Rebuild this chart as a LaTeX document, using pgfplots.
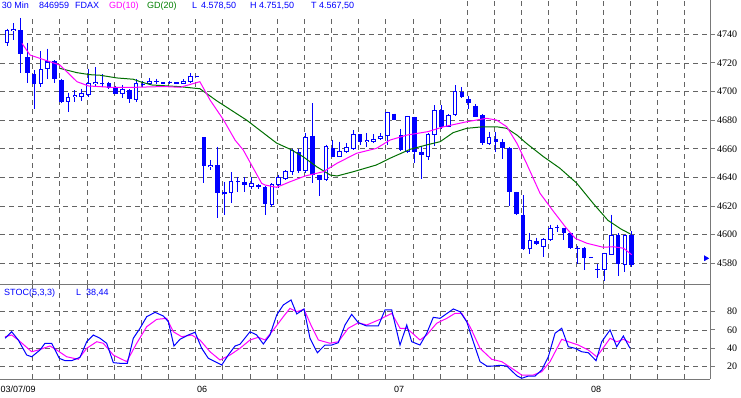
\documentclass[border=0pt]{standalone}
\usepackage{pgfplots}
\pgfplotsset{compat=1.18}
\usepackage{pgfplotstable}
\usepackage{fontspec}
\setmainfont{Liberation Sans}
\newfontfamily\serifft{Liberation Serif}
\definecolor{cblue}{RGB}{0,0,255}
\definecolor{cmag}{RGB}{255,0,255}
\definecolor{cgreen}{RGB}{0,110,0}
\definecolor{tgreen}{RGB}{0,128,0}
\definecolor{gridc}{RGB}{100,100,100}
\definecolor{borderc}{RGB}{120,120,120}

\pgfplotstableread{
i o h l c
0 4734 4744 4732 4743
1 4742 4748 4736 4744
2 4743 4751.5 4713 4726
3 4724 4734 4706 4713
4 4712 4715 4688 4705.5
5 4705 4728 4703 4715.5
6 4715.5 4730 4709 4721
7 4721 4722 4706 4709
8 4708 4709 4692 4693
9 4692.5 4699 4686 4696
10 4696 4701 4693 4697.5
11 4696.5 4702 4693.5 4699
12 4697.5 4716 4696.5 4706
13 4705 4717 4703 4707
14 4706 4712 4703 4705
15 4706 4707 4702 4702.5
16 4702.5 4704 4698 4698.5
17 4698.5 4704.5 4695.5 4702
18 4701 4701.5 4692 4694.5
19 4694 4708.5 4693 4706
20 4705.5 4707.5 4703.5 4704.5
21 4705.5 4709.5 4705 4707.5
22 4707 4709 4705.5 4707.5
23 4706.5 4706.5 4705 4705.5
24 4707 4707.5 4705.5 4706.5
25 4706.5 4706.5 4705.5 4705.5
26 4705.5 4708.5 4705 4707.5
27 4707 4713 4706 4711
28 4711 4711 4710 4710
29 4668 4668 4636 4648
30 4647.5 4652 4645 4649
31 4649 4661.5 4611.5 4629
32 4628.5 4637 4614 4629.5
33 4629 4643.5 4622 4637.5
34 4637.5 4640 4630 4636.5
35 4637 4640 4630 4635
36 4633 4640.5 4632 4636
37 4635 4635.5 4632 4633.5
38 4633.5 4634 4614 4621.5
39 4621 4636 4619 4635.5
40 4634.5 4642 4632.5 4640
41 4639 4645 4638.5 4644.5
42 4643.5 4660 4642 4659
43 4657.5 4660 4643 4644.5
44 4644.5 4671 4643 4668
45 4669 4692 4636 4642
46 4642 4642 4627 4638
47 4638 4663 4637.5 4662
48 4660.5 4666 4654 4654.5
49 4654.5 4665 4654 4658.5
50 4658 4664 4657 4661
51 4660 4673 4659 4670
52 4670 4670.5 4662.5 4665
53 4664.5 4671 4661 4666
54 4665 4670 4664 4667
55 4667 4671 4666 4669
56 4669 4686 4663 4685.5
57 4684.5 4684.5 4680 4680
58 4669.5 4674 4658.5 4659
59 4658 4683 4657 4683
60 4682 4682.5 4650 4658
61 4658 4662 4639 4655.5
62 4654 4671 4652.5 4670
63 4669.5 4690.5 4662 4687
64 4687 4690.5 4674 4675.5
65 4675.5 4684 4675 4683.5
66 4683.5 4704.5 4683 4700.5
67 4699.5 4703 4695.5 4696
68 4694.5 4697 4687.5 4692
69 4690 4691 4682 4682.5
70 4683.5 4684 4662.5 4664
71 4663.5 4672 4663 4668
72 4667 4672 4658 4664.5
73 4664.5 4667 4653 4660.5
74 4660.5 4661 4620 4630
75 4629.5 4630 4614 4614.5
76 4614 4627.5 4589.5 4590
77 4590 4601.5 4586.5 4596
78 4595.5 4598 4593 4593.5
79 4591.5 4597.5 4584.5 4597
80 4596 4607 4595.5 4604.5
81 4605.5 4607 4602 4604.5
82 4604.5 4605 4596 4601.5
83 4601 4601.5 4590 4590.5
84 4590 4592 4579.5 4591
85 4591 4591.5 4575.5 4584
86 4584.5 4584.5 4583.5 4583.5
87 4576 4579.5 4569.5 4575.5
88 4575.5 4587.5 4567.5 4587
89 4586 4614 4585.5 4600
90 4600 4601 4571 4579.5
91 4578.5 4600 4574 4599.5
92 4600 4602.5 4577.5 4578.5
}\ohlc

\pgfplotsset{
 panel/.style={scale only axis, width=710pt, xmin=-1.031, xmax=103.53, anchor=south west,
  axis x line*=bottom, axis y line*=right,
  axis line style={draw=borderc, line width=1pt},
  xtick={3.785,7.785,...,99.785}, xticklabels={}, xtick style={draw=none},
  xmajorgrids, ymajorgrids,
  major grid style={draw=gridc, line width=0.8pt, dash pattern=on 5pt off 4pt},
  tick align=outside, major tick length=5pt,
  ytick style={draw=borderc, line width=1pt},
  yticklabel style={font=\serifft\fontsize{10}{12}\selectfont, anchor=west, inner sep=0pt, text width=20pt, align=right, xshift=2pt},
  /pgf/number format/assume math mode=true, /pgf/number format/1000 sep={},
  clip=false},
 candle/.style={draw=none, mark=none, forget plot,
  error bars/y dir=minus, error bars/y explicit, error bars/error mark=none},
}

\begin{document}
\begin{tikzpicture}
\path[use as bounding box] (0pt,0pt) rectangle (741pt,397pt);

\begin{axis}[panel, at={(0pt,112.3pt)}, height=284.7pt, ymin=4565.05, ymax=4763.97, ytick={4580,4600,...,4740}]
% wicks
\addplot[candle, error bars/error bar style={line width=1pt, draw=cblue}]
  table[x=i, y=h, y error minus expr={\thisrow{h}-\thisrow{l}}] {\ohlc};
% bodies
\addplot[candle, error bars/error bar style={line width=4.6pt, draw=cblue}]
  table[x=i, y expr={max(\thisrow{o},\thisrow{c})}, y error minus expr={max(abs(\thisrow{o}-\thisrow{c}),0.7)}] {\ohlc};
% hollow interior of rising candles
\addplot[candle, error bars/error bar style={line width=2.6pt, draw=white}]
  table[x=i, y expr={ifthenelse(\thisrow{c}-\thisrow{o}>1.4, \thisrow{c}-0.7, \thisrow{c})},
   y error minus expr={ifthenelse(\thisrow{c}-\thisrow{o}>1.4, \thisrow{c}-\thisrow{o}-1.4, 0)}] {\ohlc};
% GD(20)
\addplot[cgreen, line width=1pt, mark=none] coordinates {
(7.8,4716.2)(10.3,4713.2)(12.2,4711.8)(13.7,4711.4)(16.2,4709.5)(18.6,4708.6)(19.6,4706.9)(21.3,4704.6)(25.5,4703.4)(27.7,4702.3)(28.4,4702)(30.9,4693.5)(35.3,4680)(39.7,4664)(41.7,4659.7)(43.6,4654.5)(45.6,4647.5)(47.6,4641.7)(48.6,4641)(51,4644)(54.4,4648.7)(56.4,4653.4)(59.4,4659.7)(61.8,4662.7)(63.8,4665)(65.7,4671.3)(67.7,4674.3)(70.1,4675.4)(72.1,4675.4)(73.6,4674.3)(75.1,4669.6)(76.5,4663.8)(79,4654.5)(81.4,4646.5)(83.9,4636)(86.3,4622)(88.5,4610)(90.4,4604)(91.8,4600.5)};
% GD(10)
\addplot[cmag, line width=1pt, mark=none] coordinates {
(2.2,4733.7)(3.4,4725.5)(7.8,4718.5)(10.3,4706.9)(12.0,4703.9)(15.2,4703)(19.1,4703)(23,4703.5)(25.5,4703)(27.9,4706.2)(28.4,4706.9)(29.9,4694.1)(31.9,4680.1)(33.6,4666)(34.8,4659.1)(37.5,4635.9)(38,4634.7)(39.7,4633.1)(41.7,4637)(43.9,4641)(46.6,4644)(48.6,4649.9)(51.5,4656.9)(54.4,4660.3)(56.4,4666.1)(58.9,4669.6)(62,4672)(64.3,4675.4)(67.7,4678.9)(70.6,4681.3)(72.1,4680.1)(73.6,4675.4)(75.1,4663.8)(76.5,4649.9)(78.5,4628.9)(80.5,4616.1)(82.4,4604.4)(83.7,4597.4)(85.4,4594)(87.8,4591.2)(89.3,4591.6)(90.8,4590.5)(92,4586)};
% last price flag
\addplot[only marks, mark=triangle*, mark size=3pt, mark options={rotate=-90, fill=cblue, draw=cblue}] coordinates {(102.9,4583.5)};
\end{axis}

\begin{axis}[panel, at={(0pt,18pt)}, height=94.3pt, ymin=6.04, ymax=109.67, ytick={20,40,60,80}]
\addplot[cmag, line width=1pt, mark=none] coordinates {
(-0.29,52.5)(0.69,54.4)(1.66,48.9)(3.64,36)(4.61,37.9)(6.33,42.3)(7.32,37.9)(8.79,30.5)(10.5,27.7)(11.74,39.8)(13.21,47)(14.18,45.3)(15.66,32.4)(17.63,25.1)(19.1,45.3)(20.57,63.5)(22.05,71.6)(23.52,72.7)(24.49,58)(25.73,52.5)(27.2,54.4)(28.42,48.9)(29.9,36)(31.37,26.9)(32.84,32.4)(34.31,39.8)(35.79,48.9)(37.01,51.9)(38,48.9)(39.22,59.9)(40.69,74.5)(41.68,83.7)(42.67,80)(43.74,82.6)(44.87,63.5)(45.85,48.9)(47.57,45.3)(48.79,47)(50.26,61.8)(51.74,67.9)(52.97,65.4)(54.93,71.6)(56.66,78.2)(57.88,61.8)(58.87,61.8)(60.82,48.9)(61.81,54.4)(63.28,67.3)(64.76,72.7)(65.98,78.2)(66.97,78.2)(68.19,63.5)(69.66,39.8)(71.38,27.7)(72.86,25.1)(74.57,16.7)(75.8,10.4)(77.51,10.4)(78.75,14.1)(79.97,25.1)(81.69,49.7)(82.67,47)(84.14,43.4)(85.61,37.9)(86.85,30.5)(87.58,37.9)(88.81,50.8)(89.79,47)(90.77,49.7)(91.75,45.9)};
\addplot[cblue, line width=1pt, mark=none] coordinates {
(-0.29,50.8)(0.69,58)(1.66,48.9)(2.9,32.4)(3.64,30.5)(4.86,37.9)(5.6,45.3)(6.58,45.3)(7.7,28.8)(8.54,26.2)(9.53,26.2)(10.75,29.9)(11.74,47)(12.71,54.4)(13.7,50.8)(14.68,45.3)(15.66,24)(16.64,23.3)(17.72,23.3)(18.6,50.8)(19.59,61.8)(20.57,74.5)(21.8,79.3)(23.02,75.3)(23.76,69)(24.59,42.3)(25.48,49.7)(26.7,54.4)(27.69,57.4)(28.67,39.8)(29.65,28.8)(30.63,25.1)(31.62,21.4)(32.59,32.4)(33.58,42.3)(34.31,44.2)(35.79,58)(36.77,54.4)(37.75,44.5)(38.73,54.4)(39.72,76.4)(40.69,87.4)(41.83,92.9)(42.67,77.5)(43.74,83)(44.62,50.8)(45.7,34.9)(46.83,43.4)(47.82,43.4)(48.79,45.9)(49.78,65.4)(50.76,77.1)(51.74,67.9)(52.97,64.3)(54.68,64.3)(55.67,81.9)(56.66,81.9)(57.88,43.4)(58.87,65.4)(59.6,47)(60.82,43.4)(61.81,56.3)(62.78,73.8)(63.77,72.7)(65.73,83)(66.72,80)(67.7,69)(68.67,47)(69.66,25.1)(70.65,20.3)(71.62,20.3)(72.61,21.1)(73.59,20.3)(75.07,9.7)(75.8,6.8)(76.77,9.3)(77.76,9.3)(78.75,15.9)(79.72,30.5)(80.71,56.3)(81.69,61.8)(82.67,41.5)(83.65,39.8)(84.64,36)(85.61,34.9)(86.75,26.2)(87.58,47)(88.81,59.9)(89.79,41.5)(90.77,53.3)(91.75,39.8)};
\end{axis}

% header band
\fill[white] (0pt,382pt) rectangle (445pt,397pt);
\begin{scope}[every node/.style={anchor=base west, inner sep=0pt, font=\fontsize{9}{11}\selectfont}]
\node[text=cblue] at (1.7pt,388.3pt) {30 Min};
\node[text=cblue] at (39pt,388.3pt) {846959};
\node[text=cblue] at (75pt,388.3pt) {FDAX};
\node[text=cmag] at (109pt,388.3pt) {GD(10)};
\node[text=tgreen] at (147pt,388.3pt) {GD(20)};
\node[text=cblue] at (192pt,388.3pt) {L};
\node[text=cblue] at (201pt,388.3pt) {4.578,50};
\node[text=cblue] at (250pt,388.3pt) {H};
\node[text=cblue] at (259pt,388.3pt) {4.751,50};
\node[text=cblue] at (311pt,388.3pt) {T};
\node[text=cblue] at (319pt,388.3pt) {4.567,50};
\node[text=cblue] at (4pt,102pt) {STOC(5,3,3)};
\node[text=cblue] at (76pt,102pt) {L};
\node[text=cblue] at (86pt,102pt) {38,44};
\node at (0.5pt,5pt) {03/07/09};
\node at (197pt,5pt) {06};
\node at (394pt,5pt) {07};
\node at (591pt,5pt) {08};
\end{scope}
\end{tikzpicture}
\end{document}
